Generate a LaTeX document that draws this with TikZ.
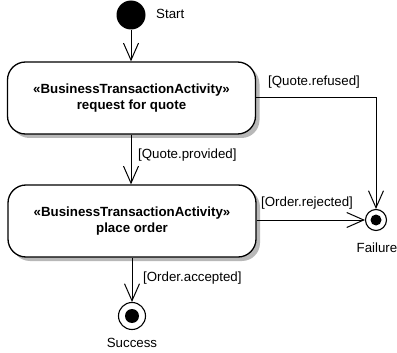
\documentclass[tikz,border=0pt]{standalone}
\usepackage{fontspec}
\setmainfont{Liberation Sans}
\usetikzlibrary{arrows.meta,shadows}
\begin{document}
\begin{tikzpicture}[x=1pt,y=-1pt,
  font=\fontsize{13.3}{15.5}\selectfont,
  activity/.style={draw, line width=1.3pt, rounded corners=18pt, fill=white,
    minimum width=248pt, minimum height=72pt, align=center,
    font=\fontsize{13.3}{16}\selectfont\bfseries,
    drop shadow={shadow xshift=4pt, shadow yshift=-4pt, fill=black!28, opacity=1}},
  initial/.style={circle, fill=black, minimum size=29pt, inner sep=0pt},
  final/.style={circle, draw, line width=1.1pt, fill=white, inner sep=0pt},
  flow/.style={draw, line width=1pt, -{Straight Barb[length=17pt,width=15pt,line width=1pt]}},
  guard/.style={inner sep=0pt, anchor=west}
]
\useasboundingbox (0,0) rectangle (397,353);

% nodes
\node[initial] (start) at (131,15) {};
\node[guard] at (156,14) {Start};

\node[activity] (rfq) at (131.5,98) {«BusinessTransactionActivity»\\request for quote};
\node[activity] (order) at (132,221) {«BusinessTransactionActivity»\\place order};

\node[final, minimum size=21pt] (fail) at (376,220) {};
\fill (fail) circle (5.5pt);
\node[inner sep=0pt] at (377,248) {Failure};

\node[final, minimum size=27pt] (succ) at (132,316) {};
\fill (succ) circle (7pt);
\node[inner sep=0pt] at (132,343) {Success};

% control flows
\draw[flow] (start) -- (start |- rfq.north);
\draw[flow] (rfq.south -| 131,0) -- (order.north -| 131,0);
\node[guard] at (138,155) {[Quote.provided]};

\draw[flow] (rfq.east) -- (fail |- rfq.east) -- (fail.north);
\node[guard] at (268,82) {[Quote.refused]};

\draw[flow] (order.east |- fail) -- (fail.west);
\node[guard] at (261,203) {[Order.rejected]};

\draw[flow] (order.south -| succ) -- (succ.north);
\node[guard] at (143,278) {[Order.accepted]};
\end{tikzpicture}
\end{document}
